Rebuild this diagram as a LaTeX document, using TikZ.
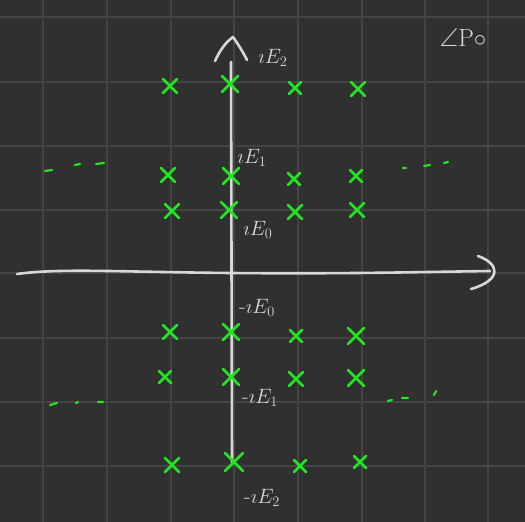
\documentclass[tikz,border=0pt]{standalone}
\usepackage{amssymb}
\begin{document}
\begin{tikzpicture}[x=1pt,y=-1pt,
  gridline/.style={draw=gridgray,line width=1.6pt},
  axis/.style={draw=axisgray,line width=2.6pt,line cap=round,line join=round},
  xmark/.style={draw=markgreen,line width=2.6pt,line cap=round},
  dashmark/.style={draw=markgreen,line width=2.2pt,line cap=round},
  lab/.style={text=axisgray,font=\fontsize{22}{24}\selectfont,inner sep=0pt}]
\definecolor{bg}{HTML}{303030}
\definecolor{gridgray}{HTML}{444444}
\definecolor{axisgray}{HTML}{D8D8D8}
\definecolor{markgreen}{HTML}{22E622}
\fill[bg] (0,0) rectangle (525,522);
\useasboundingbox (0,0) rectangle (525,522);
% grid
\foreach \gx in {43,107,171,234,298,362,425,488}
  \draw[gridline] (\gx,0) -- (\gx,522);
\foreach \gy in {17,82,146,210,273,338,402,466}
  \draw[gridline] (0,\gy) -- (525,\gy);
% axes
\coordinate (vtop) at (231,62);
\coordinate (vbot) at (232,462);
\draw[axis] (vtop) -- (vbot);
\draw[axis] (215,61) .. controls (220,50) and (226,42) .. (233,37) .. controls (238,44) and (243,52) .. (247,60);
\coordinate (hleft) at (17,274);
\coordinate (hright) at (490,271);
\draw[axis] (hleft) .. controls (60,268) and (120,272) .. (231,273) .. controls (350,274) and (420,272) .. (hright);
\draw[axis] (478,256) .. controls (500,264) and (502,280) .. (471,289);
% labels
\node[lab] (e2) at (273,58) {$\imath E_2$};
\node[lab] (e1) at (252,158) {$\imath E_1$};
\node[lab] (e0) at (258,230) {$\imath E_0$};
\node[lab] (me0) at (257,308) {-$\imath E_0$};
\node[lab] (me1) at (260,398) {-$\imath E_1$};
\node[lab] (me2) at (262,498) {-$\imath E_2$};
\node[lab,font=\fontsize{26}{28}\selectfont] (sig) at (463,38) {$\angle\mathrm{P}\circ$};
% crosses
\foreach \cx/\cy/\s in {
  170/86/7, 230/84/8, 295/88/6, 358/89/7,
  168/175/7, 231/176/8, 294/179/6, 356/176/6,
  172/211/7, 229/210/8, 295/212/7, 357/210/7,
  170/332/7, 231/332/8, 296/336/6, 356/336/8,
  165/377/6, 231/377/8, 296/379/7, 356/378/8,
  172/465/7, 234/462/9, 300/466/6, 360/462/6}
  \draw[xmark] (\cx,\cy) +(-\s,\s) -- +(\s,-\s) +(-\s,-\s) -- +(\s,\s);
% dashes
\draw[dashmark] (45,171) -- (52,170) (75,165) -- (80,164) (96,164) -- (104,163);
\draw[dashmark] (403,168) -- (406,168) (424,166) -- (430,165) (444,163) -- (448,162);
\draw[dashmark] (50,405) -- (57,403) (76,403) -- (78,402) (98,402) -- (103,402);
\draw[dashmark] (388,401) -- (392,400) (402,398) -- (408,398) (434,395) -- (436,391);
\end{tikzpicture}
\end{document}
